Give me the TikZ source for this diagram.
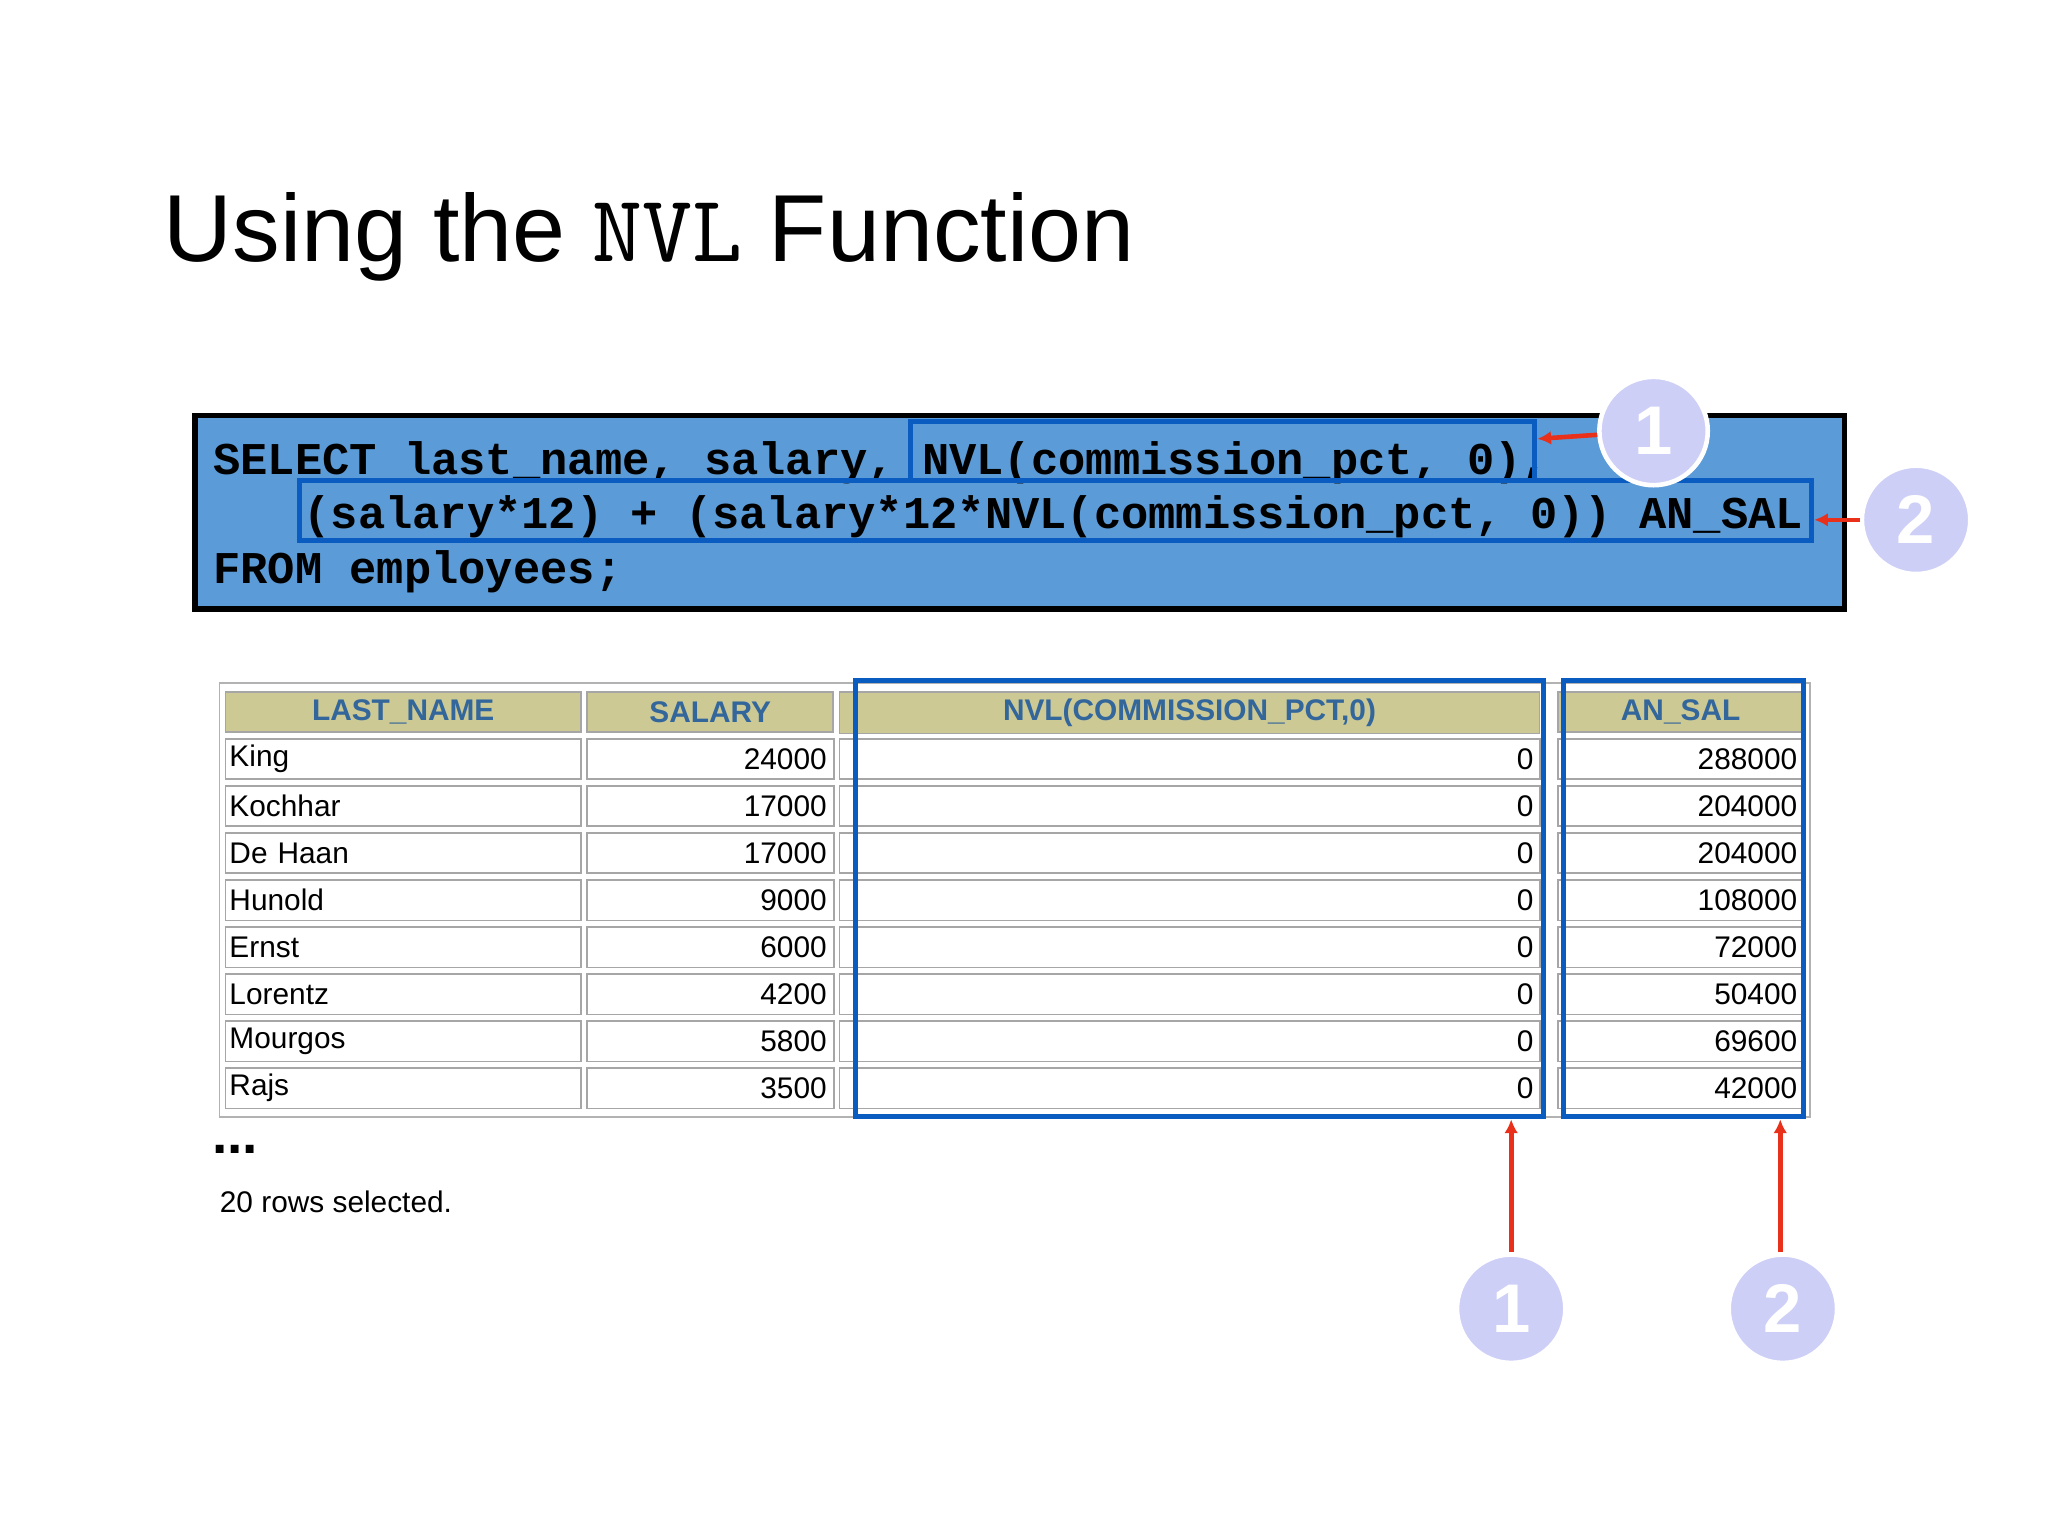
\documentclass[tikz,border=0pt]{standalone}
\usepackage{fontspec}
\setmainfont{Liberation Sans}
\setmonofont{Liberation Mono}
\newfontfamily\codefont{lmmono10-regular}[Extension=.otf]
\usetikzlibrary{arrows.meta}
\definecolor{codeblue}{HTML}{5B9BD7}
\definecolor{markblue}{HTML}{0A5CC0}
\definecolor{headfill}{HTML}{CCC995}
\definecolor{headtext}{HTML}{33669A}
\definecolor{bubble}{HTML}{CDCFF7}
\definecolor{arrowred}{HTML}{E8301A}
\tikzstyle{cell} = [draw=gray!70, fill=white, line width=0.8pt, minimum height=0.62cm, inner sep=3pt, font=\fontsize{13}{15}\selectfont]
\tikzstyle{head} = [cell, fill=headfill, text=headtext, font=\fontsize{13}{15}\selectfont\bfseries]
\tikzstyle{markbox} = [draw=markblue, line width=2.2pt]
\tikzstyle{bubblenode} = [circle, fill=bubble, draw=white, line width=2pt, minimum size=1.66cm, text=white, font=\fontsize{30}{30}\selectfont\bfseries]
\tikzstyle{pointer} = [draw=arrowred, line width=2pt, -{Latex[length=6pt,width=6pt]}]

\begin{document}
\begin{tikzpicture}[x=0.02cm,y=-0.02cm]
\useasboundingbox (0,0) rectangle (1568,1176);

\node[anchor=base west, inner sep=0, font=\fontsize{41.5}{48}\selectfont] (Title) at (125,200)
  {Using the {\codefont NVL} Function};

% code box
\node[draw=black, line width=2.5pt, fill=codeblue, minimum width=1263*0.02cm, minimum height=148*0.02cm, anchor=north west] (Code) at (147,316) {};
\node[anchor=base west, inner sep=0, font=\ttfamily\bfseries\fontsize{19.8}{21}\selectfont] (L1) at (163,363) {SELECT last\_name, salary, NVL(commission\_pct, 0),};
\node[anchor=base west, inner sep=0, font=\ttfamily\bfseries\fontsize{19.8}{21}\selectfont] (L2) at (232,405) {(salary*12) + (salary*12*NVL(commission\_pct, 0)) AN\_SAL};
\node[anchor=base west, inner sep=0, font=\ttfamily\bfseries\fontsize{19.8}{21}\selectfont] (L3) at (163,447) {FROM employees;};
\draw[markbox] (697,323) rectangle (1175,368);
\draw[markbox] (229,368) rectangle (1387,414);
\coordinate (M1) at (1177,336);
\coordinate (M2) at (1389,398);
\node[bubblenode] (B1) at (1266,330) {1};
\node[bubblenode] (B2) at (1467,398) {2};
\draw[pointer] (B1) -- (M1);
\draw[pointer] (B2) -- (M2);

% result table
\draw[gray!60, line width=0.8pt] (168,523) rectangle (1386,855);
\node[head, minimum width=272*0.02cm, anchor=north west] (H1) at (172,529) {LAST\_NAME};
\node[head, minimum width=188*0.02cm, anchor=north west] (H2) at (449,529) {SALARY};
\node[head, minimum width=536*0.02cm, anchor=north west] (H3) at (642,529) {NVL(COMMISSION\_PCT,0)};
\node[head, minimum width=188*0.02cm, anchor=north west] (H4) at (1192,529) {AN\_SAL};
\foreach \n/\s/\a [count=\i] in {King/24000/288000, Kochhar/17000/204000, De Haan/17000/204000,
    Hunold/9000/108000, Ernst/6000/72000, Lorentz/4200/50400, Mourgos/5800/69600, Rajs/3500/42000}{
  \pgfmathsetmacro{\y}{529+36*\i}
  \node[cell, minimum width=272*0.02cm, text width=266*0.02cm, inner sep=1.5pt, align=left, anchor=north west] (N\i) at (172,\y) {\n};
  \node[cell, minimum width=188*0.02cm, text width=178*0.02cm, align=right, anchor=north west] (S\i) at (449,\y) {\s};
  \node[cell, minimum width=536*0.02cm, text width=526*0.02cm, align=right, anchor=north west] (C\i) at (642,\y) {0};
  \node[cell, minimum width=188*0.02cm, text width=178*0.02cm, align=right, anchor=north west] (A\i) at (1192,\y) {\a};
}
\draw[markbox] (655,521) rectangle (1182,855);
\draw[markbox] (1197,521) rectangle (1381,855);

\node[anchor=west, inner sep=0, font=\bfseries\fontsize{24}{24}\selectfont] (Dots) at (162,880) {...};
\node[anchor=west, inner sep=0, font=\fontsize{13}{15}\selectfont] (Rows) at (168,920) {20 rows selected.};

\coordinate (T1) at (1157,857);
\coordinate (T2) at (1363,857);
\node[bubblenode] (B3) at (1157,1002) {1};
\node[bubblenode] (B4) at (1365,1002) {2};
\draw[pointer] (B3) -- (T1);
\draw[pointer] (B4.north -| T2) -- (T2);
\end{tikzpicture}
\end{document}
